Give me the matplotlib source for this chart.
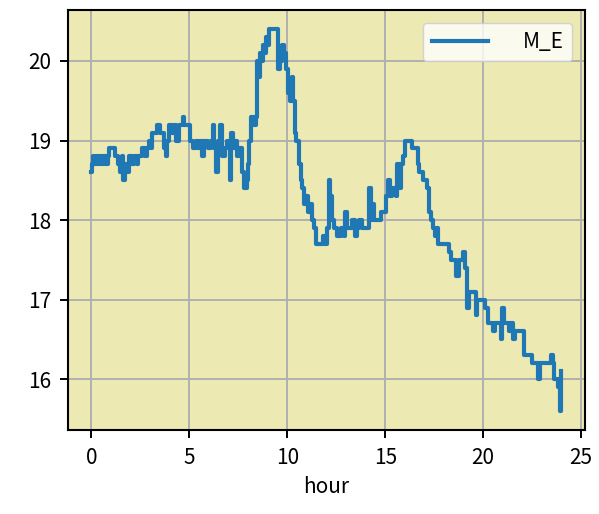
import matplotlib.pyplot as plt

plt.rcParams['font.family'] = ['Noto Sans CJK JP', 'DejaVu Sans']

# (hour, M_E), step-like series.
hours = [
    0.00, 0.05, 0.10, 0.15, 0.25, 0.35, 0.45, 0.55, 0.65, 0.75, 0.85, 0.90,
    1.15, 1.20, 1.35, 1.45, 1.55, 1.60, 1.70, 1.80, 1.90, 2.05, 2.15, 2.30,
    2.40, 2.55, 2.60, 2.75, 2.85, 2.95, 3.05, 3.10, 3.30, 3.35, 3.45, 3.50,
    3.65, 3.70, 3.80, 3.85, 3.95, 4.10, 4.20, 4.30, 4.45, 4.60, 4.65, 4.75,
    5.00, 5.05, 5.20, 5.35, 5.45, 5.55, 5.65, 5.75, 5.95, 6.10, 6.20, 6.25,
    6.35, 6.45, 6.55, 6.65, 6.80, 6.90, 7.05, 7.15, 7.25, 7.35, 7.45, 7.55,
    7.70, 7.80, 7.95, 8.00, 8.05, 8.15, 8.30, 8.40, 8.45, 8.55, 8.60, 8.70,
    8.75, 8.85, 8.90, 9.00, 9.05, 9.45, 9.50, 9.55, 9.65, 9.75, 9.85, 9.95,
    10.05, 10.15, 10.25, 10.30, 10.40, 10.45, 10.55, 10.60, 10.70, 10.75,
    10.85, 10.95, 11.05, 11.15, 11.25, 11.35, 11.45, 11.70, 11.80, 11.95,
    12.05, 12.15, 12.20, 12.30, 12.40, 12.55, 12.75, 12.90, 12.95, 13.05,
    13.20, 13.30, 13.45, 13.55, 13.65, 13.80, 14.05, 14.15, 14.25, 14.35,
    14.45, 14.70, 14.80, 14.95, 15.05, 15.15, 15.25, 15.35, 15.55, 15.60,
    15.70, 15.80, 15.90, 16.00, 16.30, 16.35, 16.55, 16.65, 16.75, 16.95,
    17.05, 17.15, 17.25, 17.35, 17.45, 17.55, 17.65, 17.70, 17.85, 18.00,
    18.15, 18.25, 18.35, 18.55, 18.60, 18.75, 18.85, 18.95, 19.05, 19.15,
    19.20, 19.30, 19.55, 19.65, 19.70, 19.90, 20.00, 20.10, 20.25, 20.45,
    20.50, 20.60, 20.85, 20.90, 20.95, 21.05, 21.20, 21.30, 21.45, 21.55,
    21.65, 22.00, 22.10, 22.45, 22.50, 22.75, 22.80, 22.90, 23.40, 23.45,
    23.55, 23.60, 23.70, 23.80, 23.93, 24.00,
]
m_e = [
    18.6, 18.7, 18.8, 18.7, 18.8, 18.7, 18.8, 18.7, 18.8, 18.7, 18.8, 18.9,
    18.9, 18.8, 18.7, 18.6, 18.8, 18.5, 18.7, 18.6, 18.8, 18.7, 18.8, 18.7,
    18.8, 18.8, 18.9, 18.8, 18.9, 19.0, 18.9, 19.1, 19.1, 19.2, 19.2, 19.1,
    19.1, 18.9, 18.8, 19.0, 19.2, 19.1, 19.2, 19.0, 19.2, 19.2, 19.3, 19.2,
    19.2, 19.0, 18.9, 19.0, 18.9, 19.0, 18.8, 19.0, 18.9, 19.0, 19.2, 18.9,
    18.6, 19.0, 19.2, 18.8, 18.9, 19.0, 18.5, 19.1, 18.9, 19.0, 18.8, 18.9,
    18.6, 18.4, 18.5, 18.7, 19.0, 19.3, 19.2, 19.3, 20.0, 19.8, 20.1, 20.0,
    20.2, 20.1, 20.3, 20.2, 20.4, 20.4, 20.3, 19.9, 20.0, 20.2, 20.1, 19.9,
    19.6, 19.5, 19.8, 19.5, 19.1, 19.0, 19.0, 18.7, 18.5, 18.4,
    18.2, 18.3, 18.1, 18.2, 18.0, 17.9, 17.7, 17.7, 17.8, 17.7,
    17.9, 18.5, 18.3, 18.0, 17.9, 17.8, 17.9, 17.8, 18.1, 17.9,
    17.9, 18.0, 17.8, 17.9, 18.0, 17.9, 17.9, 18.4, 18.0, 18.2,
    18.0, 18.0, 18.1, 18.1, 18.3, 18.5, 18.3, 18.4, 18.3, 18.7,
    18.4, 18.7, 18.8, 19.0, 19.0, 18.9, 18.9, 18.7, 18.6, 18.5,
    18.5, 18.4, 18.1, 18.0, 17.9, 17.8, 17.9, 17.7, 17.7, 17.7,
    17.7, 17.6, 17.5, 17.5, 17.3, 17.5, 17.5, 17.6, 17.4, 17.4,
    16.9, 17.1, 17.1, 16.8, 17.0, 17.0, 17.0, 16.9, 16.7, 16.7,
    16.6, 16.7, 16.7, 16.5, 16.9, 16.7, 16.7, 16.6, 16.7, 16.5,
    16.6, 16.6, 16.3, 16.3, 16.2, 16.2, 16.0, 16.2, 16.2, 16.3,
    16.2, 16.0, 16.0, 15.9, 15.6, 16.1,
]

fig = plt.figure(figsize=(5.99, 5.14), dpi=100)
ax = fig.add_axes([0.1135, 0.1634, 0.863, 0.817])
ax.set_facecolor('#ece9b3')

ax.plot(hours, m_e, color='#1f77b4', lw=3, drawstyle='steps-post', label='M_E')

ax.grid(True, color='#b0b0b0', lw=1.4)
ax.set_axisbelow(True)
ax.set_xlabel('hour', fontsize=15, labelpad=5)
ax.tick_params(labelsize=15, width=1.4, length=6, pad=6)
for s in ax.spines.values():
    s.set_linewidth(1.5)

ax.set_xticks([0, 5, 10, 15, 20, 25])
ax.set_yticks([16, 17, 18, 19, 20])

ax.legend(loc='upper right', fontsize=15, handlelength=2.7, handletextpad=1.7,
          fancybox=True, framealpha=0.8, borderaxespad=0.6)

plt.savefig('out.png', dpi=100)
